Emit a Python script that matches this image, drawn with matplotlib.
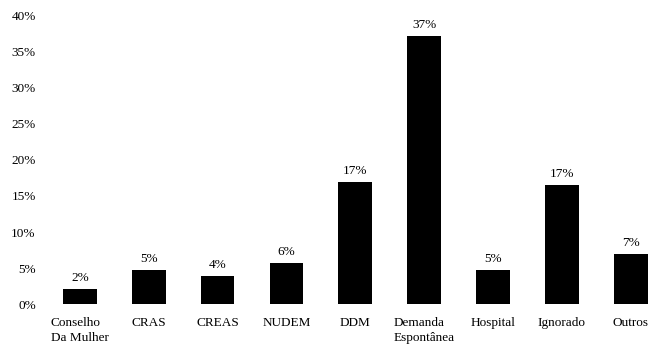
import matplotlib
matplotlib.use("Agg")
import matplotlib.pyplot as plt
from matplotlib.ticker import FuncFormatter

plt.rcParams['font.family'] = ['Liberation Serif', 'DejaVu Serif']

categorias = ['Conselho\nDa Mulher', 'CRAS', 'CREAS', 'NUDEM', 'DDM',
              'Demanda\nEspontânea', 'Hospital', 'Ignorado', 'Outros']
percentuais = [2.1, 4.7, 3.9, 5.7, 16.9, 37.2, 4.7, 16.5, 7.0]
rotulos = ['2%', '5%', '4%', '6%', '17%', '37%', '5%', '17%', '7%']
ticks_y = [0, 5, 10, 15, 20, 25, 30, 35, 40]

fig = plt.figure(figsize=(6.5, 3.44), dpi=100)
ax = fig.add_axes([0.070, 0.116, 0.930, 0.838])

x = list(range(len(categorias)))
ax.bar(x, percentuais, width=0.49, color='black')

# rótulo de valor acima de cada barra
for xi, v, r in zip(x, percentuais, rotulos):
    ax.annotate(r, (xi, v), xytext=(0, 3.5), textcoords='offset points',
                ha='center', va='bottom', fontsize=9.5)

ax.set_xlim(-0.5, 8.28)
ax.set_ylim(0, 40)
ax.set_yticks(ticks_y)
ax.yaxis.set_major_formatter(FuncFormatter(lambda v, p: '%d%%' % v))
ax.set_xticks(x)
ax.set_xticklabels(categorias, multialignment='left', linespacing=1.35)
ax.tick_params(axis='both', length=0, labelsize=9.5)
ax.tick_params(axis='x', pad=9)
ax.tick_params(axis='y', pad=7)
for s in ax.spines.values():
    s.set_visible(False)

fig.savefig('out.png', dpi=100)
